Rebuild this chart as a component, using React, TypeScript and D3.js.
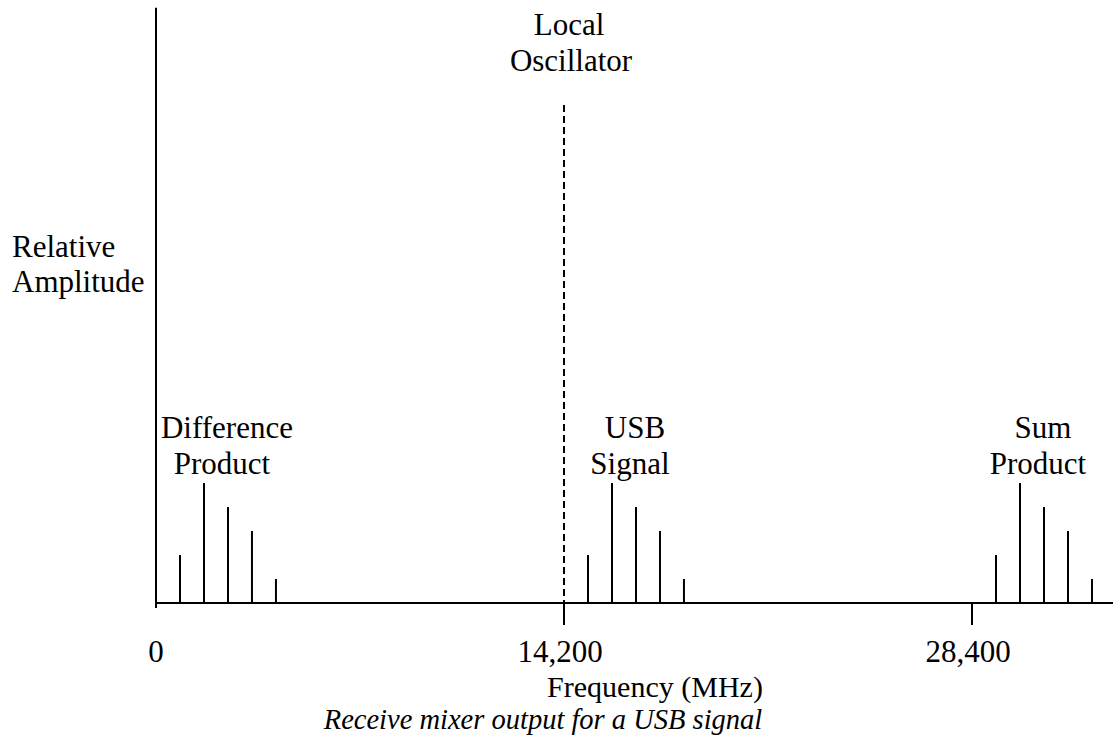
import React from "react";
import * as d3 from "d3";

const W = 1113;
const H = 740;

// Data: frequencies (MHz) and relative amplitudes of the spectral lines
const diffFreqs = [835, 1670, 2505, 3340, 4175];
const usbFreqs = [15035, 15870, 16705, 17540, 18375];
const sumFreqs = [29235, 30070, 30905, 31740, 32575];
const lineAmps = [2, 5, 4, 3, 1];
const loFreq = 14200;
const loLevel = 20.75;
const tickValues = [0, 14200, 28400];
const tickLabels = ["0", "14,200", "28,400"];
const groupLabels = [
  { lines: ["Difference", "Product"], freq: 2505 },
  { lines: ["USB", "Signal"], freq: 16705 },
  { lines: ["Sum", "Product"], freq: 30905 },
];

const FONT = "'Liberation Serif', 'Times New Roman', serif";

export default function App() {
  const x = d3.scaleLinear().domain([0, 33300]).range([156, 1112.8]);
  const y = d3.scaleLinear().domain([0, 25]).range([603, 3]);

  const groups = [diffFreqs, usbFreqs, sumFreqs];
  const stems = groups.flatMap((fs) => fs.map((f, i) => ({ f, a: lineAmps[i] })));

  const fs = 31;
  return (
    <svg
      width={W}
      height={H}
      style={{ position: "absolute", left: 0, top: 0, background: "#fff" }}
      fontFamily={FONT}
    >
      <rect x={0} y={0} width={W} height={H} fill="#fff" />
      {/* y axis */}
      <line x1={x(0)} x2={x(0)} y1={y(24.8)} y2={y(0) + 5} stroke="#000" strokeWidth={2} />
      {/* x axis */}
      <line x1={x(0)} x2={W} y1={y(0)} y2={y(0)} stroke="#000" strokeWidth={2} />
      {/* ticks */}
      {tickValues.slice(1).map((t) => (
        <line key={t} x1={x(t)} x2={x(t)} y1={y(0)} y2={y(0) + 22} stroke="#000" strokeWidth={2} />
      ))}
      {tickValues.map((t, i) => (
        <text
          key={"tl" + t}
          x={x(t) - (i === 0 ? 0 : 4)}
          y={662}
          fontSize={fs}
          textAnchor="middle"
        >
          {tickLabels[i]}
        </text>
      ))}
      {/* LO dashed line */}
      <line
        x1={x(loFreq)}
        x2={x(loFreq)}
        y1={y(loLevel)}
        y2={y(0)}
        stroke="#000"
        strokeWidth={2}
        strokeDasharray="7,4"
      />
      {/* stems */}
      {stems.map((s, i) => (
        <line key={i} x1={x(s.f)} x2={x(s.f)} y1={y(0)} y2={y(s.a)} stroke="#000" strokeWidth={2} />
      ))}
      {/* labels */}
      <text x={x(loFreq) + 5} y={35} fontSize={fs} textAnchor="middle">Local</text>
      <text x={x(loFreq) + 7} y={71} fontSize={fs} textAnchor="middle">Oscillator</text>
      <text x={12} y={257} fontSize={fs}>Relative</text>
      <text x={12} y={292} fontSize={fs}>Amplitude</text>
      {groupLabels.map((g) => (
        <g key={g.lines[0] + g.freq}>
          <text x={x(g.freq) - 1} y={438} fontSize={fs} textAnchor="middle">{g.lines[0]}</text>
          <text x={x(g.freq) - 6} y={474} fontSize={fs} textAnchor="middle">{g.lines[1]}</text>
        </g>
      ))}
      <text x={655} y={697} fontSize={30} textAnchor="middle">Frequency (MHz)</text>
      <text x={543} y={729} fontSize={28.5} fontStyle="italic" textAnchor="middle">
        Receive mixer output for a USB signal
      </text>
    </svg>
  );
}
